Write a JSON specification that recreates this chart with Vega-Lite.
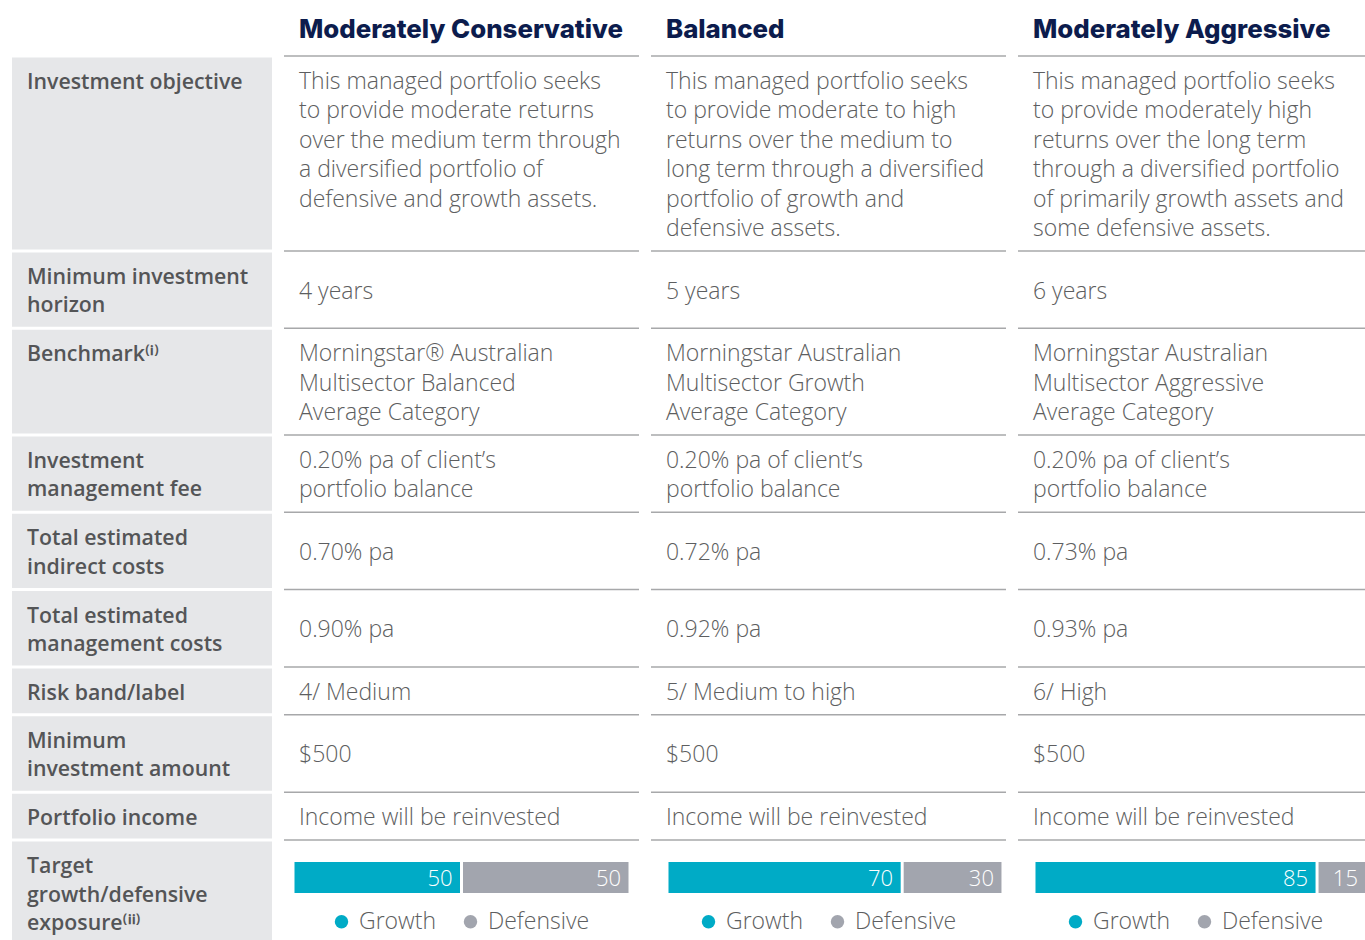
{
  "$schema": "https://vega.github.io/schema/vega-lite/v6.json",
  "background": "white",
  "padding": {"left": 12, "top": 0, "right": 0, "bottom": 0},
  "spacing": 12,
  "bounds": "flush",
  "config": {
    "view": {"stroke": null},
    "legend": {
      "orient": "none",
      "direction": "horizontal",
      "title": null,
      "symbolType": "circle",
      "symbolSize": 180,
      "symbolStrokeWidth": 0,
      "labelFont": "Open Sans",
      "labelFontWeight": 300,
      "labelFontSize": 23,
      "labelColor": "#5d5e60",
      "labelOffset": 6,
      "columnPadding": 23,
      "padding": 0
    }
  },
  "datasets": {
    "table": [
      {"order": 1, "lines": 6, "label": "Investment objective",
       "conservative": "This managed portfolio seeks\nto provide moderate returns\nover the medium term through\na diversified portfolio of\ndefensive and growth assets.\n",
       "balanced": "This managed portfolio seeks\nto provide moderate to high\nreturns over the medium to\nlong term through a diversified\nportfolio of growth and\ndefensive assets.",
       "aggressive": "This managed portfolio seeks\nto provide moderately high\nreturns over the long term\nthrough a diversified portfolio\nof primarily growth assets and\nsome defensive assets."},
      {"order": 2, "lines": 2, "label": "Minimum investment\nhorizon",
       "conservative": "4 years", "balanced": "5 years", "aggressive": "6 years"},
      {"order": 3, "lines": 3, "label": "Benchmark⁽ⁱ⁾",
       "conservative": "Morningstar® Australian\nMultisector Balanced\nAverage Category",
       "balanced": "Morningstar Australian\nMultisector Growth\nAverage Category",
       "aggressive": "Morningstar Australian\nMultisector Aggressive\nAverage Category"},
      {"order": 4, "lines": 2, "label": "Investment\nmanagement fee",
       "conservative": "0.20% pa of client’s\nportfolio balance",
       "balanced": "0.20% pa of client’s\nportfolio balance",
       "aggressive": "0.20% pa of client’s\nportfolio balance"},
      {"order": 5, "lines": 2, "label": "Total estimated\nindirect costs",
       "conservative": "0.70% pa", "balanced": "0.72% pa", "aggressive": "0.73% pa"},
      {"order": 6, "lines": 2, "label": "Total estimated\nmanagement costs",
       "conservative": "0.90% pa", "balanced": "0.92% pa", "aggressive": "0.93% pa"},
      {"order": 7, "lines": 1, "label": "Risk band/label",
       "conservative": "4/ Medium", "balanced": "5/ Medium to high", "aggressive": "6/ High"},
      {"order": 8, "lines": 2, "label": "Minimum\ninvestment amount",
       "conservative": "$500", "balanced": "$500", "aggressive": "$500"},
      {"order": 9, "lines": 1, "label": "Portfolio income",
       "conservative": "Income will be reinvested", "balanced": "Income will be reinvested", "aggressive": "Income will be reinvested"},
      {"order": 10, "lines": 3, "label": "Target\ngrowth/defensive\nexposure⁽ⁱⁱ⁾",
       "mix": [
         {"portfolio": "conservative", "asset": "Growth", "value": 50},
         {"portfolio": "conservative", "asset": "Defensive", "value": 50},
         {"portfolio": "balanced", "asset": "Growth", "value": 70},
         {"portfolio": "balanced", "asset": "Defensive", "value": 30},
         {"portfolio": "aggressive", "asset": "Growth", "value": 85},
         {"portfolio": "aggressive", "asset": "Defensive", "value": 15}
       ]}
    ],
    "portfolios": [
      {"key": "conservative", "name": "Moderately Conservative"},
      {"key": "balanced", "name": "Balanced"},
      {"key": "aggressive", "name": "Moderately Aggressive"}
    ]
  },
  "resolve": {
    "scale": {"x": "independent", "y": "independent", "color": "independent"},
    "legend": {"color": "independent"}
  },
  "hconcat": [
    {
      "width": 260, "height": 940,
      "data": {"name": "table"},
      "transform": [
        {"calculate": "datum.lines + 0.63", "as": "h"},
        {"window": [{"op": "sum", "field": "h", "as": "bottom"}], "sort": [{"field": "order"}], "frame": [null, 0]},
        {"calculate": "datum.bottom - datum.h", "as": "top"},
        {"calculate": "datum.top + 1.12", "as": "ty"}
      ],
      "layer": [
        {
          "mark": {"type": "rect", "color": "#e6e7e9", "yOffset": 1.5, "y2Offset": -1.5, "clip": true},
          "encoding": {
            "x": {"datum": 0, "type": "quantitative", "scale": {"domain": [0, 1]}, "axis": null},
            "x2": {"datum": 1},
            "y": {"field": "top", "type": "quantitative", "scale": {"domain": [-1.905, 30.068], "reverse": true}, "axis": null},
            "y2": {"field": "bottom"}
          }
        },
        {
          "mark": {"type": "text", "align": "left", "baseline": "alphabetic", "lineBreak": "\n", "lineHeight": 28.5,
                   "font": "Open Sans", "fontSize": 21.3, "fontWeight": 600, "color": "#545557", "dx": 15},
          "encoding": {
            "x": {"datum": 0, "type": "quantitative", "scale": {"domain": [0, 1]}, "axis": null},
            "y": {"field": "ty", "type": "quantitative", "scale": {"domain": [-1.905, 30.068], "reverse": true}, "axis": null},
            "text": {"field": "label"}
          }
        }
      ]
    },
    {
      "width": 355, "height": 940,
      "data": {"name": "table"},
      "transform": [
        {"calculate": "datum.lines + 0.63", "as": "h"},
        {"window": [{"op": "sum", "field": "h", "as": "bottom"}], "sort": [{"field": "order"}], "frame": [null, 0]},
        {"calculate": "datum.bottom - datum.h", "as": "top"}
      ],
      "layer": [
        {
          "mark": {"type": "rule", "color": "#a7a8aa", "strokeWidth": 1.5},
          "encoding": {
            "y": {"field": "top", "type": "quantitative", "scale": {"domain": [-1.905, 30.068], "reverse": true}, "axis": null}
          }
        },
        {
          "data": {"name": "portfolios"},
          "transform": [{"filter": "datum.key === 'conservative'"}],
          "mark": {"type": "text", "align": "left", "baseline": "alphabetic", "font": "Inter", "fontSize": 25.8, "fontWeight": 800, "color": "#0c1c4d", "dx": 6},
          "encoding": {
            "x": {"datum": 0, "type": "quantitative", "scale": {"domain": [-2.67, 102.67]}, "axis": null},
            "y": {"datum": -0.62, "type": "quantitative", "scale": {"domain": [-1.905, 30.068], "reverse": true}, "axis": null},
            "text": {"field": "name"}
          }
        },
        {
          "transform": [
            {"filter": "isValid(datum.conservative)"},
            {"calculate": "datum.top + 1.12 + (datum.lines - length(split(datum.conservative, '\\n'))) / 2", "as": "ty"}
          ],
          "mark": {"type": "text", "align": "left", "baseline": "alphabetic", "lineBreak": "\n", "lineHeight": 29.4,
                   "font": "Open Sans", "fontSize": 23, "fontWeight": 300, "color": "#5d5e60", "dx": 6},
          "encoding": {
            "x": {"datum": 0, "type": "quantitative", "scale": {"domain": [-2.67, 102.67]}, "axis": null},
            "y": {"field": "ty", "type": "quantitative", "scale": {"domain": [-1.905, 30.068], "reverse": true}, "axis": null},
            "text": {"field": "conservative"}
          }
        },
        {
          "transform": [
            {"filter": "isValid(datum.mix)"},
            {"flatten": ["mix"]},
            {"calculate": "datum.mix.portfolio", "as": "portfolio"},
            {"calculate": "datum.mix.asset", "as": "asset"},
            {"calculate": "datum.mix.value", "as": "value"},
            {"filter": "datum.portfolio === 'conservative'"},
            {"stack": "value", "groupby": [], "sort": [{"field": "asset", "order": "descending"}], "as": ["v0", "v1"]}
          ],
          "layer": [
            {
              "mark": {"type": "rect", "yOffset": 22, "y2Offset": 53, "x2Offset": -1.5, "xOffset": 1.5, "clip": true},
              "encoding": {
                "x": {"field": "v0", "type": "quantitative", "scale": {"domain": [-2.67, 102.67]}, "axis": null},
                "x2": {"field": "v1"},
                "y": {"field": "top", "type": "quantitative", "scale": {"domain": [-1.905, 30.068], "reverse": true}, "axis": null},
                "y2": {"field": "top"},
                "color": {"field": "asset", "type": "nominal",
                          "scale": {"domain": ["Growth", "Defensive"], "range": ["#00abc6", "#a2a5ae"]},
                          "legend": {"legendX": 46, "legendY": 910}}
              }
            },
            {
              "mark": {"type": "text", "align": "right", "baseline": "alphabetic", "font": "Open Sans", "fontSize": 22, "fontWeight": 300, "color": "white", "dx": -9, "dy": 46},
              "encoding": {
                "x": {"field": "v1", "type": "quantitative", "scale": {"domain": [-2.67, 102.67]}, "axis": null},
                "y": {"field": "top", "type": "quantitative", "scale": {"domain": [-1.905, 30.068], "reverse": true}, "axis": null},
                "text": {"field": "value"}
              }
            }
          ]
        }
      ]
    },
    {
      "width": 355, "height": 940,
      "data": {"name": "table"},
      "transform": [
        {"calculate": "datum.lines + 0.63", "as": "h"},
        {"window": [{"op": "sum", "field": "h", "as": "bottom"}], "sort": [{"field": "order"}], "frame": [null, 0]},
        {"calculate": "datum.bottom - datum.h", "as": "top"}
      ],
      "layer": [
        {
          "mark": {"type": "rule", "color": "#a7a8aa", "strokeWidth": 1.5},
          "encoding": {
            "y": {"field": "top", "type": "quantitative", "scale": {"domain": [-1.905, 30.068], "reverse": true}, "axis": null}
          }
        },
        {
          "data": {"name": "portfolios"},
          "transform": [{"filter": "datum.key === 'balanced'"}],
          "mark": {"type": "text", "align": "left", "baseline": "alphabetic", "font": "Inter", "fontSize": 25.8, "fontWeight": 800, "color": "#0c1c4d", "dx": -1},
          "encoding": {
            "x": {"datum": 0, "type": "quantitative", "scale": {"domain": [-4.76, 100.9]}, "axis": null},
            "y": {"datum": -0.62, "type": "quantitative", "scale": {"domain": [-1.905, 30.068], "reverse": true}, "axis": null},
            "text": {"field": "name"}
          }
        },
        {
          "transform": [
            {"filter": "isValid(datum.balanced)"},
            {"calculate": "datum.top + 1.12 + (datum.lines - length(split(datum.balanced, '\\n'))) / 2", "as": "ty"}
          ],
          "mark": {"type": "text", "align": "left", "baseline": "alphabetic", "lineBreak": "\n", "lineHeight": 29.4,
                   "font": "Open Sans", "fontSize": 23, "fontWeight": 300, "color": "#5d5e60", "dx": -1},
          "encoding": {
            "x": {"datum": 0, "type": "quantitative", "scale": {"domain": [-4.76, 100.9]}, "axis": null},
            "y": {"field": "ty", "type": "quantitative", "scale": {"domain": [-1.905, 30.068], "reverse": true}, "axis": null},
            "text": {"field": "balanced"}
          }
        },
        {
          "transform": [
            {"filter": "isValid(datum.mix)"},
            {"flatten": ["mix"]},
            {"calculate": "datum.mix.portfolio", "as": "portfolio"},
            {"calculate": "datum.mix.asset", "as": "asset"},
            {"calculate": "datum.mix.value", "as": "value"},
            {"filter": "datum.portfolio === 'balanced'"},
            {"stack": "value", "groupby": [], "sort": [{"field": "asset", "order": "descending"}], "as": ["v0", "v1"]}
          ],
          "layer": [
            {
              "mark": {"type": "rect", "yOffset": 22, "y2Offset": 53, "x2Offset": -1.5, "xOffset": 1.5, "clip": true},
              "encoding": {
                "x": {"field": "v0", "type": "quantitative", "scale": {"domain": [-4.76, 100.9]}, "axis": null},
                "x2": {"field": "v1"},
                "y": {"field": "top", "type": "quantitative", "scale": {"domain": [-1.905, 30.068], "reverse": true}, "axis": null},
                "y2": {"field": "top"},
                "color": {"field": "asset", "type": "nominal",
                          "scale": {"domain": ["Growth", "Defensive"], "range": ["#00abc6", "#a2a5ae"]},
                          "legend": {"legendX": 46, "legendY": 910}}
              }
            },
            {
              "mark": {"type": "text", "align": "right", "baseline": "alphabetic", "font": "Open Sans", "fontSize": 22, "fontWeight": 300, "color": "white", "dx": -9, "dy": 46},
              "encoding": {
                "x": {"field": "v1", "type": "quantitative", "scale": {"domain": [-4.76, 100.9]}, "axis": null},
                "y": {"field": "top", "type": "quantitative", "scale": {"domain": [-1.905, 30.068], "reverse": true}, "axis": null},
                "text": {"field": "value"}
              }
            }
          ]
        }
      ]
    },
    {
      "width": 347, "height": 940,
      "data": {"name": "table"},
      "transform": [
        {"calculate": "datum.lines + 0.63", "as": "h"},
        {"window": [{"op": "sum", "field": "h", "as": "bottom"}], "sort": [{"field": "order"}], "frame": [null, 0]},
        {"calculate": "datum.bottom - datum.h", "as": "top"}
      ],
      "layer": [
        {
          "mark": {"type": "rule", "color": "#a7a8aa", "strokeWidth": 1.5},
          "encoding": {
            "y": {"field": "top", "type": "quantitative", "scale": {"domain": [-1.905, 30.068], "reverse": true}, "axis": null}
          }
        },
        {
          "data": {"name": "portfolios"},
          "transform": [{"filter": "datum.key === 'aggressive'"}],
          "mark": {"type": "text", "align": "left", "baseline": "alphabetic", "font": "Inter", "fontSize": 25.8, "fontWeight": 800, "color": "#0c1c4d", "dx": -1},
          "encoding": {
            "x": {"datum": 0, "type": "quantitative", "scale": {"domain": [-4.8, 99.4]}, "axis": null},
            "y": {"datum": -0.62, "type": "quantitative", "scale": {"domain": [-1.905, 30.068], "reverse": true}, "axis": null},
            "text": {"field": "name"}
          }
        },
        {
          "transform": [
            {"filter": "isValid(datum.aggressive)"},
            {"calculate": "datum.top + 1.12 + (datum.lines - length(split(datum.aggressive, '\\n'))) / 2", "as": "ty"}
          ],
          "mark": {"type": "text", "align": "left", "baseline": "alphabetic", "lineBreak": "\n", "lineHeight": 29.4,
                   "font": "Open Sans", "fontSize": 23, "fontWeight": 300, "color": "#5d5e60", "dx": -1},
          "encoding": {
            "x": {"datum": 0, "type": "quantitative", "scale": {"domain": [-4.8, 99.4]}, "axis": null},
            "y": {"field": "ty", "type": "quantitative", "scale": {"domain": [-1.905, 30.068], "reverse": true}, "axis": null},
            "text": {"field": "aggressive"}
          }
        },
        {
          "transform": [
            {"filter": "isValid(datum.mix)"},
            {"flatten": ["mix"]},
            {"calculate": "datum.mix.portfolio", "as": "portfolio"},
            {"calculate": "datum.mix.asset", "as": "asset"},
            {"calculate": "datum.mix.value", "as": "value"},
            {"filter": "datum.portfolio === 'aggressive'"},
            {"stack": "value", "groupby": [], "sort": [{"field": "asset", "order": "descending"}], "as": ["v0", "v1"]}
          ],
          "layer": [
            {
              "mark": {"type": "rect", "yOffset": 22, "y2Offset": 53, "x2Offset": -1.5, "xOffset": 1.5, "clip": true},
              "encoding": {
                "x": {"field": "v0", "type": "quantitative", "scale": {"domain": [-4.8, 99.4]}, "axis": null},
                "x2": {"field": "v1"},
                "y": {"field": "top", "type": "quantitative", "scale": {"domain": [-1.905, 30.068], "reverse": true}, "axis": null},
                "y2": {"field": "top"},
                "color": {"field": "asset", "type": "nominal",
                          "scale": {"domain": ["Growth", "Defensive"], "range": ["#00abc6", "#a2a5ae"]},
                          "legend": {"legendX": 46, "legendY": 910}}
              }
            },
            {
              "mark": {"type": "text", "align": "right", "baseline": "alphabetic", "font": "Open Sans", "fontSize": 22, "fontWeight": 300, "color": "white", "dx": -9, "dy": 46, "clip": true},
              "encoding": {
                "x": {"field": "v1", "type": "quantitative", "scale": {"domain": [-4.8, 99.4]}, "axis": null},
                "y": {"field": "top", "type": "quantitative", "scale": {"domain": [-1.905, 30.068], "reverse": true}, "axis": null},
                "text": {"field": "value"}
              }
            }
          ]
        }
      ]
    }
  ]
}
